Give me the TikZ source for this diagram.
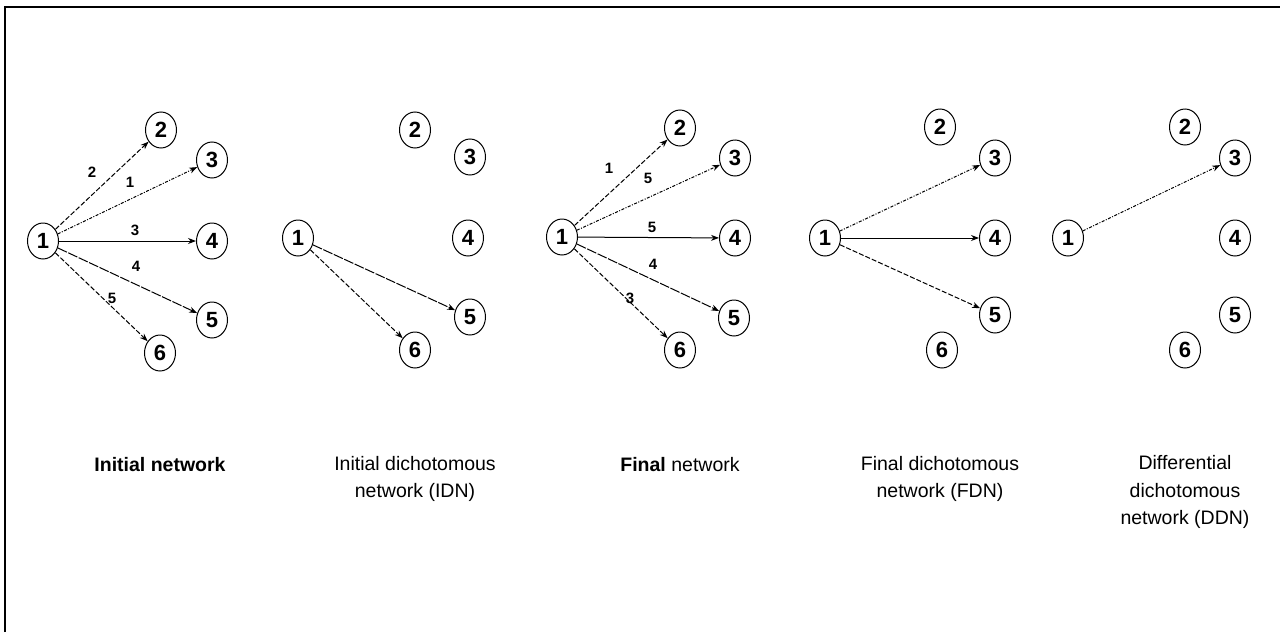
\documentclass[tikz,border=0pt]{standalone}
\usepackage{fontspec}
\setmainfont{Liberation Sans}
\usetikzlibrary{arrows.meta,shapes.geometric}
\begin{document}
\begin{tikzpicture}[x=1pt,y=-1pt,
  nd/.style={ellipse,draw,line width=1pt,minimum width=31pt,minimum height=36pt,inner sep=0pt,font=\fontsize{22}{22}\selectfont\bfseries},
  ed/.style={line width=1pt,-{Stealth[length=8pt,width=6pt]}},
  dsh/.style={dash pattern=on 5pt off 2pt},
  dsd/.style={dash pattern=on 3pt off 1.5pt on 1pt off 1.5pt},
  lng/.style={dash pattern=on 10pt off 1.5pt},
  el/.style={font=\fontsize{15}{15}\selectfont\bfseries,inner sep=1pt},
  captxt/.style={font=\fontsize{19.5}{27.5}\selectfont,align=center}]
\useasboundingbox (0,0) rectangle (1280,632);
\draw[line width=2pt] (5,632) -- (5,7) -- (1280,7);

% Panel 1
\node[nd] (a1) at (43,241) {1};
\node[nd] (a2) at (161,130) {2};
\node[nd] (a3) at (212,160) {3};
\node[nd] (a4) at (212,241) {4};
\node[nd] (a5) at (212,320) {5};
\node[nd] (a6) at (160,353) {6};
\draw[ed,dsh] (a1) -- (a2);
\draw[ed,dsd] (a1) -- (a3);
\draw[ed] (a1) -- (a4);
\draw[ed,lng] (a1) -- (a5);
\draw[ed,dsh] (a1) -- (a6);
\node[el] (la2) at (92,172) {2};
\node[el] (la3) at (130,182) {1};
\node[el] (la4) at (135,230) {3};
\node[el] (la5) at (136,266) {4};
\node[el] (la6) at (112,298) {5};
\node[captxt] (ca) at (160,465) {\bfseries Initial network};

% Panel 2
\node[nd] (b1) at (298,238) {1};
\node[nd] (b2) at (415,130) {2};
\node[nd] (b3) at (470,157) {3};
\node[nd] (b4) at (468,238) {4};
\node[nd] (b5) at (470,317) {5};
\node[nd] (b6) at (415,350) {6};
\draw[ed,lng] (b1) -- (b5);
\draw[ed,dsh] (b1) -- (b6);
\node[captxt] (cb) at (415,479) {Initial dichotomous\\network (IDN)};

% Panel 3
\node[nd] (c1) at (562,237) {1};
\node[nd] (c2) at (680,128) {2};
\node[nd] (c3) at (735,158) {3};
\node[nd] (c4) at (735,238) {4};
\node[nd] (c5) at (734,318) {5};
\node[nd] (c6) at (680,350) {6};
\draw[ed,dsh] (c1) -- (c2);
\draw[ed,dsd] (c1) -- (c3);
\draw[ed] (c1) -- (c4);
\draw[ed,lng] (c1) -- (c5);
\draw[ed,dsh] (c1) -- (c6);
\node[el] (lc2) at (609,168) {1};
\node[el] (lc3) at (648,178) {5};
\node[el] (lc4) at (652,227) {5};
\node[el] (lc5) at (653,264) {4};
\node[el] (lc6) at (630,298) {3};
\node[captxt] (cc) at (680,465) {\bfseries Final \mdseries network};

% Panel 4
\node[nd] (d1) at (825,238) {1};
\node[nd] (d2) at (940,127) {2};
\node[nd] (d3) at (995,158) {3};
\node[nd] (d4) at (995,238) {4};
\node[nd] (d5) at (995,315) {5};
\node[nd] (d6) at (942,350) {6};
\draw[ed,dsd] (d1) -- (d3);
\draw[ed] (d1) -- (d4);
\draw[ed,dsh] (d1) -- (d5);
\node[captxt] (cd) at (940,479) {Final dichotomous\\network (FDN)};

% Panel 5
\node[nd] (e1) at (1068,238) {1};
\node[nd] (e2) at (1185,127) {2};
\node[nd] (e3) at (1235,158) {3};
\node[nd] (e4) at (1235,238) {4};
\node[nd] (e5) at (1235,315) {5};
\node[nd] (e6) at (1185,350) {6};
\draw[ed,dsd] (e1) -- (e3);
\node[captxt] (ce) at (1185,492) {Differential\\dichotomous\\network (DDN)};
\end{tikzpicture}
\end{document}
